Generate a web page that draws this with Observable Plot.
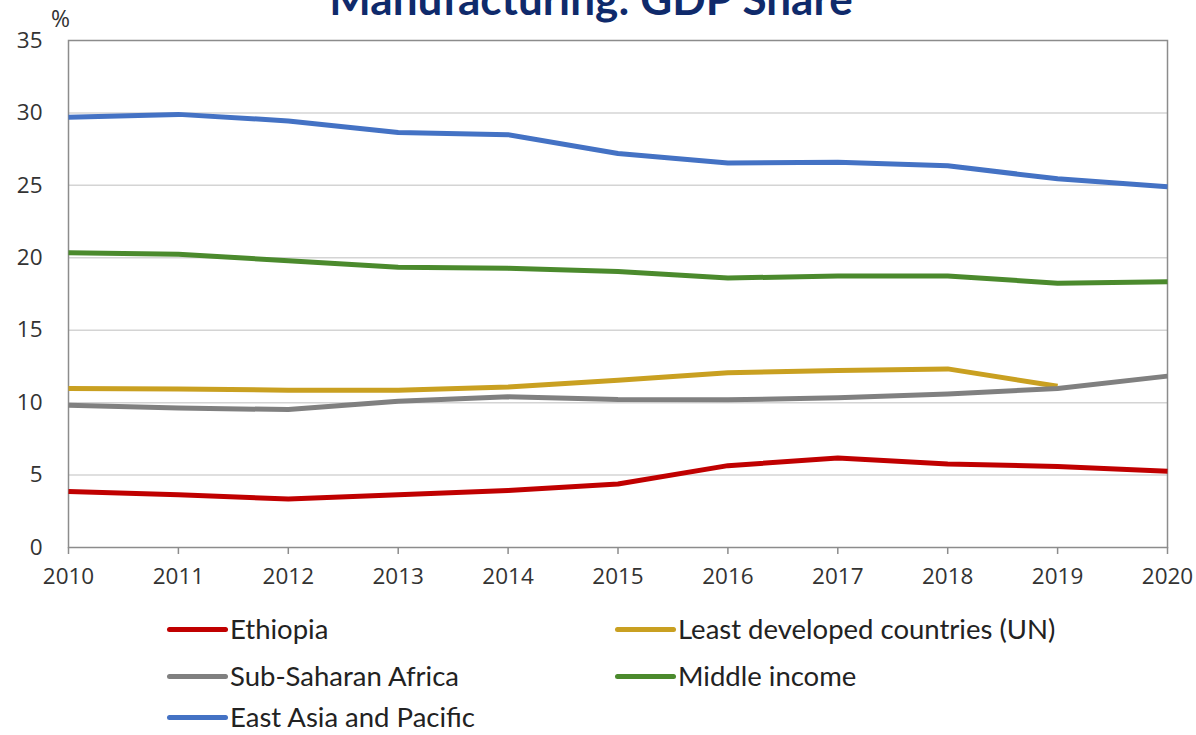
<!DOCTYPE html>
<html>
<head>
<meta charset="utf-8">
<script src="https://cdn.jsdelivr.net/npm/d3@7"></script>
<script src="https://cdn.jsdelivr.net/npm/@observablehq/plot@0.6"></script>
<style>
  html, body { margin: 0; padding: 0; background: #fff; }
  #wrap { position: relative; width: 1196px; height: 735px; overflow: hidden; font-family: Lato, "Liberation Sans", sans-serif; }
  #title { position: absolute; left: 0; width: 1182px; top: -28px; text-align: center; font: bold 44px Lato, sans-serif; color: #0f2a6b; white-space: nowrap; }
  #unit { position: absolute; left: 51px; top: 2px; font: 23px "Open Sans", sans-serif; color: #333; }
  #chart { position: absolute; left: 0; top: 0; }
  .leg { position: absolute; display: flex; align-items: center; font: 27.5px Lato, sans-serif; color: #222; white-space: nowrap; height: 24px; line-height: 24px; }
  .leg .sw { width: 61px; height: 5px; border-radius: 3px; margin-right: 2px; }
</style>
</head>
<body>
<div id="wrap">
  <div id="chart"></div>
  <div id="title">Manufacturing: GDP Share</div>
  <div id="unit">%</div>
</div>
<script>
const years = [2010, 2011, 2012, 2013, 2014, 2015, 2016, 2017, 2018, 2019, 2020];
const ethiopia = [3.87, 3.64, 3.34, 3.64, 3.94, 4.38, 5.65, 6.18, 5.76, 5.6, 5.26];
const leastDeveloped = [10.97, 10.95, 10.86, 10.85, 11.08, 11.55, 12.06, 12.22, 12.33, 11.13, null];
const subSaharan = [9.82, 9.63, 9.52, 10.1, 10.4, 10.21, 10.2, 10.33, 10.6, 10.97, 11.83];
const middleIncome = [20.35, 20.25, 19.8, 19.35, 19.27, 19.05, 18.6, 18.75, 18.75, 18.25, 18.35];
const eastAsia = [29.7, 29.9, 29.45, 28.65, 28.5, 27.2, 26.55, 26.6, 26.35, 25.45, 24.9];
const seriesNames = ["Ethiopia", "Least developed countries (UN)", "Sub-Saharan Africa", "Middle income", "East Asia and Pacific"];
const seriesColors = ["#c00000", "#c9a021", "#808080", "#4b8a2d", "#4472c4"];
const yTicks = [0, 5, 10, 15, 20, 25, 30, 35];

const seriesValues = [ethiopia, leastDeveloped, subSaharan, middleIncome, eastAsia];
const rows = [];
seriesNames.forEach((name, i) => {
  years.forEach((yr, j) => {
    const v = seriesValues[i][j];
    if (v != null) rows.push({series: name, year: yr, value: v});
  });
});

const plot = Plot.plot({
  width: 1196,
  height: 600,
  marginTop: 40,
  marginLeft: 68,
  marginRight: 29,
  marginBottom: 53,
  style: {fontFamily: "'Open Sans', sans-serif", fontSize: "22.5px", color: "#333", background: "white"},
  x: {domain: [2010, 2020], label: null},
  y: {domain: [0, 35], label: null},
  color: {domain: seriesNames, range: seriesColors},
  marks: [
    Plot.gridY(yTicks.filter(d => d > 0 && d < 35), {stroke: "#d4d4d4", strokeOpacity: 1, strokeWidth: 1.5}),
    Plot.frame({stroke: "#8c8c8c", strokeWidth: 1.5}),
    Plot.axisX({ticks: years, tickFormat: d => String(d), tickSize: 7, tickPadding: 14, stroke: "#8c8c8c", strokeWidth: 1.5, fill: "#333"}),
    Plot.axisY({ticks: yTicks, tickSize: 0, tickPadding: 26, fill: "#333"}),
    Plot.line(rows, {x: "year", y: "value", z: "series", stroke: "series", strokeWidth: 5, strokeLinejoin: "round", strokeLinecap: "butt"})
  ]
});
document.getElementById("chart").appendChild(plot);

// legend
const legPos = [
  {left: 167, top: 629}, {left: 615, top: 629},
  {left: 167, top: 676}, {left: 615, top: 676},
  {left: 167, top: 717}
];
const wrap = document.getElementById("wrap");
seriesNames.forEach((name, i) => {
  const d = document.createElement("div");
  d.className = "leg";
  d.style.left = legPos[i].left + "px";
  d.style.top = (legPos[i].top - 12) + "px";
  const sw = document.createElement("span");
  sw.className = "sw";
  sw.style.background = seriesColors[i];
  const t = document.createElement("span");
  t.textContent = name;
  d.appendChild(sw);
  d.appendChild(t);
  wrap.appendChild(d);
});
</script>
</body>
</html>
